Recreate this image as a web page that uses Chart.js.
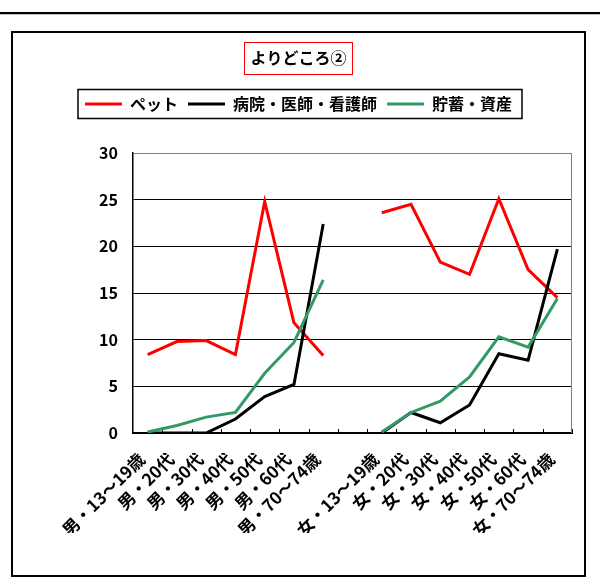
<!DOCTYPE html>
<html>
<head>
<meta charset="utf-8">
<script src="https://cdn.jsdelivr.net/npm/chart.js@4.4.1/dist/chart.umd.min.js"></script>
<style>
  html, body { margin: 0; padding: 0; background: #fff; }
  #wrap { position: relative; width: 600px; height: 583px; }
</style>
</head>
<body>
<div id="wrap"><canvas id="c" width="600" height="583"></canvas></div>
<script>
// Age groups by sex; the empty slot separates the male and female groups.
const categories = [
  '男・13～19歳', '男・20代', '男・30代', '男・40代', '男・50代', '男・60代', '男・70～74歳',
  '',
  '女・13～19歳', '女・20代', '女・30代', '女・40代', '女・50代', '女・60代', '女・70～74歳'
];
const seriesNames = ['ペット', '病院・医師・看護師', '貯蓄・資産'];

// Percentages per group (null = separator slot)
const pet      = [8.4, 9.8, 9.9, 8.4, 24.8, 11.8, 8.3, null, 23.6, 24.5, 18.3, 17.0, 25.1, 17.5, 14.5];
const hospital = [0, 0, 0, 1.5, 3.9, 5.2, 22.4, null, 0, 2.2, 1.1, 3.0, 8.5, 7.8, 19.7];
const savings  = [0.1, 0.8, 1.7, 2.2, 6.4, 9.7, 16.4, null, 0.1, 2.2, 3.4, 6.0, 10.3, 9.2, 14.4];

const yTicks = [0, 5, 10, 15, 20, 25, 30];

const FONT = '"Noto Sans CJK JP", "Noto Sans", sans-serif';

// Page rule, outer frame, boxes round the title and legend, inner category ticks
const frameAndBoxes = {
  id: 'frameAndBoxes',
  beforeDraw(chart) {
    const { ctx } = chart;
    ctx.save();
    ctx.fillStyle = '#fff';
    ctx.fillRect(0, 0, chart.width, chart.height);
    ctx.fillStyle = '#000';
    ctx.fillRect(0, 12, chart.width, 2);
    ctx.fillStyle = '#bdbdbd';
    ctx.fillRect(0, 14, chart.width, 1);
    ctx.strokeStyle = '#000';
    ctx.lineWidth = 2;
    ctx.strokeRect(12, 32, 573, 544);
    ctx.restore();
  },
  beforeDatasetsDraw(chart) {
    const { ctx, chartArea: a } = chart;
    ctx.save();
    ctx.strokeStyle = '#808080';
    ctx.lineWidth = 1;
    ctx.beginPath();
    ctx.moveTo(a.right - 0.5, a.top);
    ctx.lineTo(a.right - 0.5, a.bottom);
    ctx.stroke();
    const n = chart.scales.x.ticks.length;
    const step = (a.right - a.left) / n;
    ctx.strokeStyle = '#000';
    ctx.beginPath();
    for (let i = 1; i <= n; i++) {
      const px = Math.round(a.left + i * step) + 0.5;
      ctx.moveTo(px, a.bottom);
      ctx.lineTo(px, a.bottom - 4);
    }
    ctx.stroke();
    ctx.restore();
  },
  afterDraw(chart) {
    const { ctx } = chart;
    const t = chart.titleBlock;
    const tf = Chart.helpers.toFont(t.options.font);
    ctx.save();
    ctx.font = tf.string;
    const tw = ctx.measureText(t.options.text).width;
    const cx = (t.left + t.right) / 2;
    const cy = t.top + t._padding.top + tf.lineHeight / 2;
    ctx.strokeStyle = '#ff0000';
    ctx.lineWidth = 1;
    ctx.strokeRect(Math.round(cx - tw / 2 - 6) + 0.5, Math.round(cy - 16) + 0.5, Math.round(tw + 12), 32);

    const hb = chart.legend.legendHitBoxes;
    const l = Math.min(...hb.map(h => h.left)) - 7;
    const r = Math.max(...hb.map(h => h.left + h.width)) + 10;
    const my = hb[0].top + hb[0].height / 2;
    ctx.strokeStyle = '#000';
    ctx.lineWidth = 1.5;
    ctx.strokeRect(l, my - 14.5, r - l, 29);
    ctx.restore();
  }
};

new Chart(document.getElementById('c'), {
  type: 'line',
  data: {
    labels: categories,
    datasets: [
      { label: seriesNames[0], data: pet, borderColor: '#ff0000', backgroundColor: '#ff0000', order: 3 },
      { label: seriesNames[1], data: hospital, borderColor: '#000000', backgroundColor: '#000000', order: 2 },
      { label: seriesNames[2], data: savings, borderColor: '#339966', backgroundColor: '#339966', order: 1 }
    ]
  },
  options: {
    responsive: false,
    animation: false,
    layout: { padding: { top: 30, left: 25, right: 28, bottom: 50 } },
    elements: {
      line: { borderWidth: 3, tension: 0, fill: false },
      point: { radius: 0, hoverRadius: 0 }
    },
    plugins: {
      title: {
        display: true,
        text: 'よりどころ②',
        color: '#000',
        font: { family: FONT, size: 16, weight: 'bold' },
        padding: { top: 18.4, bottom: 18.4 }
      },
      legend: {
        display: true,
        position: 'top',
        weight: 1800,
        labels: {
          color: '#000',
          font: { family: FONT, size: 16, weight: 'bold' },
          boxWidth: 37,
          boxHeight: 3,
          padding: 10,
          sort: (a, b) => a.datasetIndex - b.datasetIndex,
          generateLabels: (chart) =>
            Chart.defaults.plugins.legend.labels.generateLabels(chart).map(item => ({ ...item, lineWidth: 0 }))
        }
      },
      subtitle: {
        display: true,
        text: '',
        font: { size: 10, lineHeight: 1 },
        padding: { top: 21, bottom: 0 }
      },
      tooltip: { enabled: false }
    },
    scales: {
      x: {
        offset: true,
        ticks: {
          autoSkip: false,
          minRotation: 45,
          maxRotation: 45,
          color: '#000',
          font: { family: FONT, size: 17, weight: 'bold' },
          padding: 16,
          labelOffset: -6
        },
        grid: { display: true, drawOnChartArea: false, drawTicks: false },
        border: { display: true, color: '#000', width: 2 },
        afterFit(s) { s.height = 100; }
      },
      y: {
        min: yTicks[0],
        max: yTicks[yTicks.length - 1],
        ticks: {
          stepSize: yTicks[1] - yTicks[0],
          color: '#000',
          font: { family: FONT, size: 16, weight: 'bold' },
          padding: 15
        },
        grid: {
          color: (c) => (c.tick && c.tick.value === yTicks[yTicks.length - 1] ? '#808080' : '#000'),
          lineWidth: 1,
          drawTicks: false
        },
        border: { display: true, color: '#000', width: 1.5 },
        afterFit(s) { s.width = 108; }
      }
    }
  },
  plugins: [frameAndBoxes]
});
</script>
</body>
</html>
